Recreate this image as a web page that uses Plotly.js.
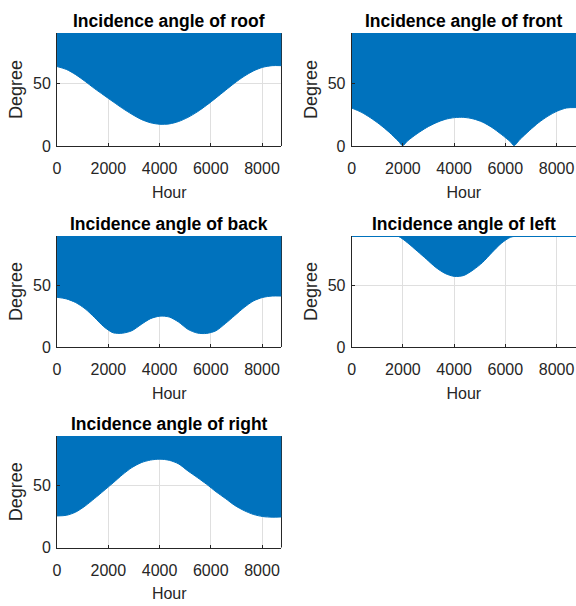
<!DOCTYPE html>
<html>
<head>
<meta charset="utf-8">
<script src="https://cdn.plot.ly/plotly-3.0.1.min.js"></script>
<style>
  html, body { margin: 0; padding: 0; background: #ffffff; }
  #chart { width: 576px; height: 606px; }
</style>
</head>
<body>
<div id="chart"></div>
<script>
// hour of the year, sampled about every 15 days
var hours = [0, 365, 730, 1095, 1460, 1825, 2190, 2555, 2920, 3285, 3650, 4015,
  4380, 4745, 5110, 5475, 5840, 6205, 6570, 6935, 7300, 7665, 8030, 8395, 8760];
// the front surface needs the two zero crossings as well
var frontHours = [0, 365, 730, 1095, 1460, 1825, 1990, 2190, 2555, 2920, 3285, 3650,
  4015, 4380, 4745, 5110, 5475, 5840, 6205, 6340, 6570, 6935, 7300, 7665, 8030, 8395, 8760];

// smallest incidence angle of each day (degree)
var roofAngle = [63.3, 61.0, 56.8, 51.5, 45.8, 40.5, 35.2, 30.0, 25.3, 21.2, 18.5, 17.3,
  17.6, 19.5, 22.8, 27.2, 32.5, 38.3, 44.3, 50.2, 55.5, 59.8, 62.7, 64.0, 64.0];
var frontAngle = [30.2, 27.0, 22.5, 17.2, 11.0, 3.8, 0.3, 4.2, 9.8, 14.6, 18.4, 21.2,
  22.6, 22.8, 21.6, 19.0, 14.8, 9.3, 3.2, 0.3, 5.2, 12.2, 18.6, 23.8, 27.8, 30.3, 30.6];
var backAngle = [40.3, 39.0, 36.0, 31.0, 24.0, 16.5, 11.5, 11.2, 13.2, 18.3, 23.0, 25.0,
  24.3, 20.2, 14.3, 11.3, 11.0, 13.2, 19.0, 25.5, 32.0, 37.3, 40.2, 41.3, 41.3];
var leftAngle = [90, 90, 90, 90, 90, 89.6, 84.3, 77.8, 71.2, 64.5, 59.6, 57.2,
  58.0, 62.5, 68.5, 76.5, 84.0, 89.0, 90, 90, 90, 90, 90, 90, 90];
var rightAngle = [25.5, 26.0, 28.6, 33.5, 39.5, 45.8, 52.2, 58.8, 64.5, 68.5, 70.6, 71.3,
  70.4, 67.5, 61.8, 56.5, 51.0, 45.0, 39.6, 34.0, 29.8, 26.7, 25.0, 24.5, 24.7];

// at night the angle is 90
var nightAngle = 90;

var xTicks = [0, 2000, 4000, 6000, 8000];
var yTicks = [0, 50];

var panels = [
  { title: "Incidence angle of roof", x: hours, y: roofAngle },
  { title: "Incidence angle of front", x: frontHours, y: frontAngle },
  { title: "Incidence angle of back", x: hours, y: backAngle },
  { title: "Incidence angle of left", x: hours, y: leftAngle },
  { title: "Incidence angle of right", x: hours, y: rightAngle },
];

var colDomains = [[0.099, 0.4887], [0.6106, 1.0]];
var rowDomains = [[0.7591, 0.9455], [0.4274, 0.6106], [0.0965, 0.2805]];

var blue = "#0072BD";
var axisColor = "#262626";
var font = "Liberation Sans, Arial, Helvetica, sans-serif";

var data = [];
var layout = {
  width: 576,
  height: 606,
  margin: { l: 0, r: 0, t: 0, b: 0 },
  paper_bgcolor: "#ffffff",
  plot_bgcolor: "#ffffff",
  showlegend: false,
  font: { family: font, size: 16, color: axisColor },
  annotations: [],
  shapes: [],
};

panels.forEach(function (p, i) {
  var n = i + 1;
  var xa = "x" + (n === 1 ? "" : n);
  var ya = "y" + (n === 1 ? "" : n);
  var col = i % 2;
  var row = Math.floor(i / 2);

  data.push({
    x: p.x,
    y: p.y,
    xaxis: xa,
    yaxis: ya,
    mode: "lines",
    line: { color: blue, width: 1, shape: "spline", smoothing: 0.8 },
    hoverinfo: "skip",
  });
  data.push({
    x: p.x,
    y: p.x.map(function () { return nightAngle; }),
    xaxis: xa,
    yaxis: ya,
    mode: "lines",
    line: { color: blue, width: 2 },
    fill: "tonexty",
    fillcolor: blue,
    hoverinfo: "skip",
  });

  var xKey = "xaxis" + (n === 1 ? "" : n);
  var yKey = "yaxis" + (n === 1 ? "" : n);
  layout[xKey] = {
    domain: colDomains[col],
    anchor: ya,
    range: [0, 8760],
    tickvals: xTicks,
    ticks: "inside",
    ticklen: 3,
    tickcolor: axisColor,
    showline: true,
    linecolor: axisColor,
    linewidth: 1,
    showgrid: true,
    gridcolor: "#dfdfdf",
    zeroline: false,
    ticklabelstandoff: 8,
    tickfont: { size: 16, color: axisColor },
    title: { text: "Hour", standoff: 10, font: { size: 16, color: axisColor } },
    automargin: false,
    fixedrange: true,
  };
  layout[yKey] = {
    domain: rowDomains[row],
    anchor: xa,
    range: [0, 90],
    tickvals: yTicks,
    ticks: "inside",
    ticklen: 3,
    tickcolor: axisColor,
    showline: true,
    linecolor: axisColor,
    linewidth: 1,
    showgrid: true,
    gridcolor: "#dfdfdf",
    zeroline: false,
    ticklabelstandoff: 2,
    tickfont: { size: 16, color: axisColor },
    title: { text: "Degree", standoff: 5, font: { size: 18, color: axisColor } },
    automargin: false,
    fixedrange: true,
  };

  // box edge on the right of the left column
  if (col === 0) {
    layout.shapes.push({
      type: "line",
      xref: xa + " domain",
      yref: ya + " domain",
      x0: 1, x1: 1, y0: 0, y1: 1,
      line: { color: axisColor, width: 1 },
      layer: "below",
    });
  }

  layout.annotations.push({
    text: "<b>" + p.title + "</b>",
    xref: "paper",
    yref: "paper",
    x: (colDomains[col][0] + colDomains[col][1]) / 2,
    y: rowDomains[row][1],
    xanchor: "center",
    yanchor: "bottom",
    yshift: 0,
    showarrow: false,
    font: { family: font, size: 17.5, color: "#000000" },
  });
});

Plotly.newPlot("chart", data, layout, { staticPlot: true });
</script>
</body>
</html>
